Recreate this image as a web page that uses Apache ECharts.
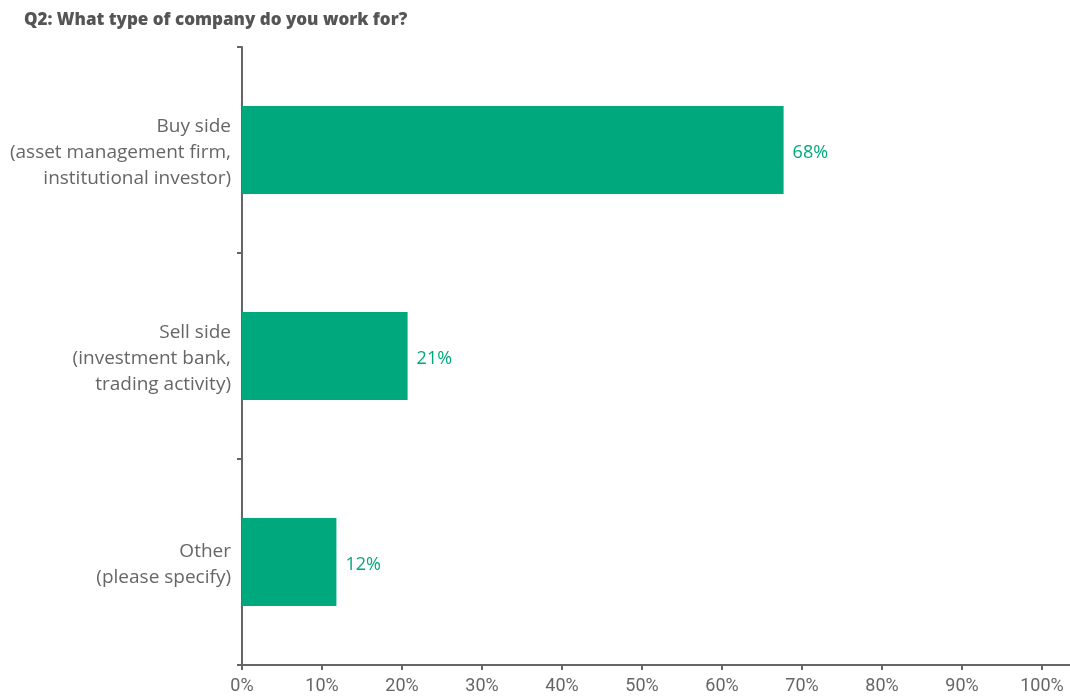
<!DOCTYPE html>
<html>
<head>
<meta charset="utf-8">
<script src="https://cdn.jsdelivr.net/npm/echarts@6/dist/echarts.min.js"></script>
<style>
  html, body { margin: 0; padding: 0; background: #fff; }
  #chart { width: 1070px; height: 696px; }
</style>
</head>
<body>
<div id="chart"></div>
<script>
// Survey answers, top to bottom
const categories = [
  'Buy side\n(asset management firm,\ninstitutional investor)',
  'Sell side\n(investment bank,\ntrading activity)',
  'Other\n(please specify)'
];
const shares = [67.7, 20.7, 11.8];
const tickValues = [0, 10, 20, 30, 40, 50, 60, 70, 80, 90, 100];

const FONT = '"Open Sans", Roboto, sans-serif';
const TICK_FONT = 'Roboto, "Open Sans", sans-serif';
const GREEN = '#00a87e';
const GREY = '#666666';

const chart = echarts.init(document.getElementById('chart'), null, { renderer: 'canvas' });
chart.setOption({
  animation: false,
  title: {
    text: 'Q2: What type of company do you work for?',
    left: 19,
    top: 7,
    textStyle: { fontFamily: FONT, fontSize: 17, fontWeight: 800, color: '#555555' }
  },
  grid: { left: 242, right: 0, top: 47, bottom: 31, containLabel: false },
  xAxis: {
    type: 'value',
    min: 0,
    max: 103.5,
    axisLine: { show: true, lineStyle: { color: GREY, width: 2 } },
    axisTick: { show: true, length: 5, lineStyle: { color: GREY, width: 2 }, customValues: tickValues },
    axisLabel: {
      customValues: tickValues,
      formatter: v => v + '%',
      color: GREY, fontFamily: TICK_FONT, fontSize: 18, margin: 12
    },
    splitLine: { show: false }
  },
  yAxis: {
    type: 'category',
    inverse: true,
    data: categories,
    axisLine: { show: true, lineStyle: { color: GREY, width: 2 } },
    axisTick: { show: true, length: 5, lineStyle: { color: GREY, width: 2 } },
    axisLabel: {
      margin: 11,
      align: 'right',
      // a short spacer line nudges the multi-line block slightly downward
      formatter: v => '{s|}\n' + v.split('\n').map(l => '{t|' + l + '}').join('\n'),
      rich: {
        s: { fontSize: 1, lineHeight: 6 },
        t: { color: GREY, fontFamily: FONT, fontSize: 19, lineHeight: 26, align: 'right' }
      }
    }
  },
  series: [{
    type: 'bar',
    data: shares,
    barWidth: 88,
    itemStyle: { color: GREEN },
    label: {
      show: true,
      position: 'right',
      distance: 9,
      offset: [0, 3],
      formatter: p => Math.round(p.value) + '%',
      color: GREEN, fontFamily: FONT, fontSize: 18
    }
  }]
});
</script>
</body>
</html>
